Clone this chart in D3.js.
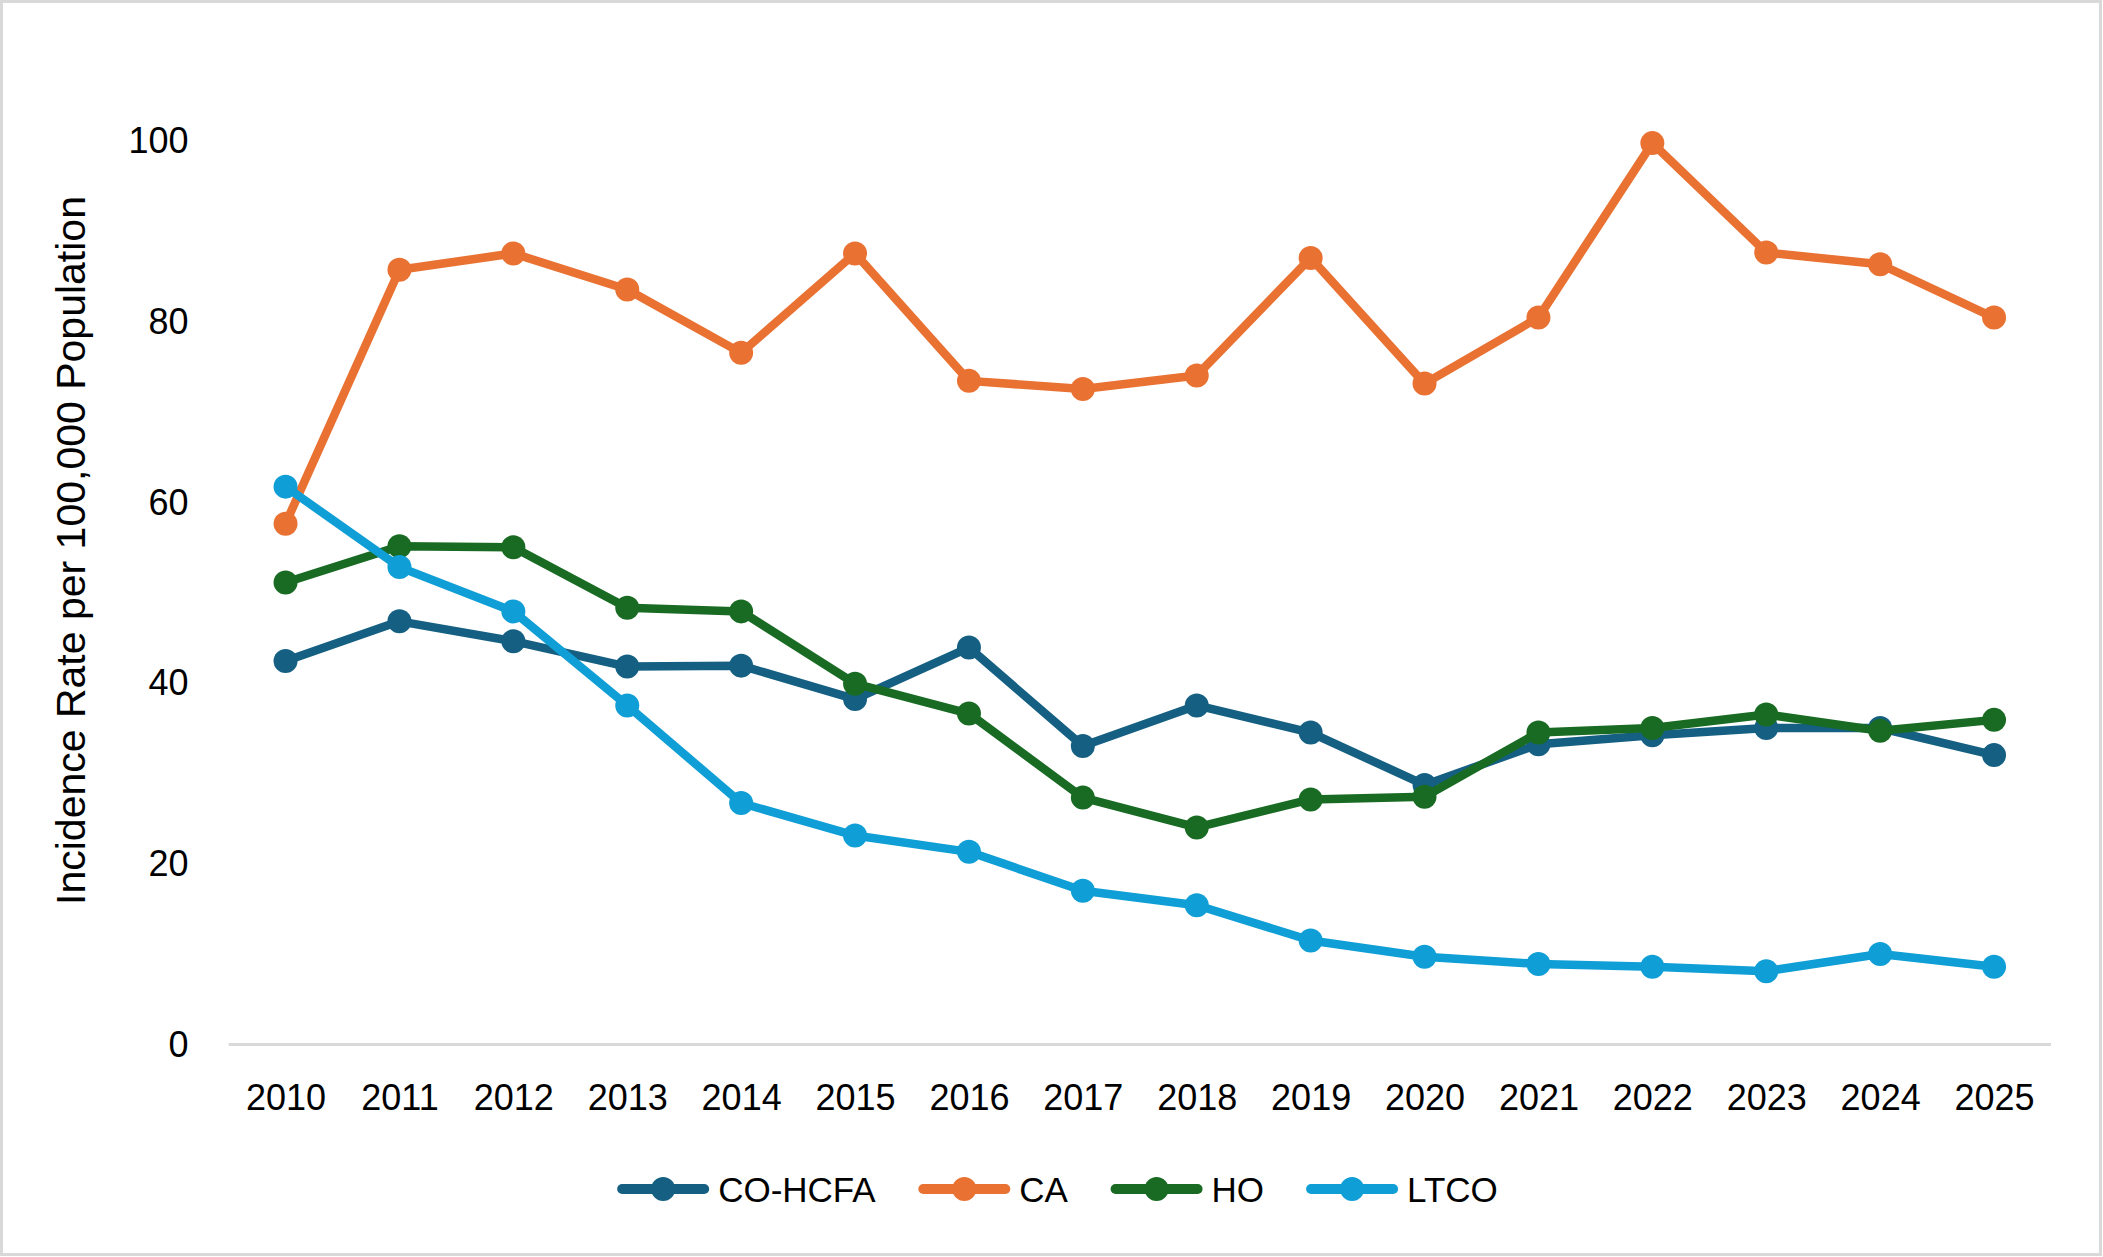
<!DOCTYPE html>
<html lang="en">
<head>
<meta charset="utf-8">
<title>Incidence Rate per 100,000 Population</title>
<script src="https://cdnjs.cloudflare.com/ajax/libs/d3/7.8.5/d3.min.js"></script>
<style>
  html, body { margin: 0; padding: 0; background: #fff; }
  svg { display: block; font-family: "Liberation Sans", Arial, sans-serif; }
  .axis text { font-size: 36px; fill: #000; }
  .axis .domain, .axis line { display: none; }
</style>
</head>
<body>
<script>
// data
var years = ["2010","2011","2012","2013","2014","2015","2016","2017","2018","2019","2020","2021","2022","2023","2024","2025"];
var coHcfa = [42.3, 46.7, 44.5, 41.7, 41.8, 38.1, 43.8, 32.9, 37.4, 34.4, 28.6, 33.1, 34.1, 34.9, 34.9, 31.9];
var ca     = [57.5, 85.6, 87.4, 83.4, 76.4, 87.4, 73.3, 72.4, 73.9, 86.9, 73.0, 80.3, 99.6, 87.5, 86.2, 80.3];
var ho     = [51.0, 55.0, 54.9, 48.2, 47.8, 39.8, 36.5, 27.2, 23.9, 27.0, 27.3, 34.4, 34.9, 36.4, 34.6, 35.8];
var ltco   = [61.6, 52.7, 47.8, 37.4, 26.6, 23.0, 21.2, 16.9, 15.3, 11.4, 9.6, 8.8, 8.5, 8.0, 9.9, 8.5];
var seriesNames = ["CO-HCFA", "CA", "HO", "LTCO"];
var seriesColors = ["#156082", "#E97132", "#196B24", "#0F9ED5"];
var yTicks = [0, 20, 40, 60, 80, 100];

var series = [coHcfa, ca, ho, ltco].map(function(vals, i) {
  return { name: seriesNames[i], color: seriesColors[i], values: vals };
});

var W = 2103, H = 1257;
var margin = { top: 139.5, right: 52, bottom: 213.5, left: 228.6 };
var width = W - margin.left - margin.right;
var height = H - margin.top - margin.bottom;

var svg = d3.select("body").append("svg")
  .attr("width", W)
  .attr("height", H);

// outer border
svg.append("rect")
  .attr("x", 1.5).attr("y", 1.5)
  .attr("width", W - 4).attr("height", H - 4)
  .attr("fill", "#fff")
  .attr("stroke", "#d9d9d9")
  .attr("stroke-width", 3);

var g = svg.append("g")
  .attr("transform", "translate(" + margin.left + "," + margin.top + ")");

var x = d3.scalePoint().domain(years).range([0, width]).padding(0.5);
var y = d3.scaleLinear().domain([0, 100]).range([height, 0]);

// baseline
g.append("line")
  .attr("x1", 0).attr("x2", width)
  .attr("y1", y(0) + 1).attr("y2", y(0) + 1)
  .attr("stroke", "#d9d9d9")
  .attr("stroke-width", 3);

// axes
g.append("g")
  .attr("class", "axis x")
  .attr("transform", "translate(0," + height + ")")
  .call(d3.axisBottom(x).tickSize(0).tickPadding(66))
  .selectAll("text").attr("dy", "0");

g.append("g")
  .attr("class", "axis y")
  .call(d3.axisLeft(y).tickValues(yTicks).tickSize(0).tickPadding(40))
  .selectAll("text").attr("dy", "0.36em");

// y title
svg.append("text")
  .attr("transform", "translate(71," + 550.5 + ") rotate(-90)")
  .attr("text-anchor", "middle")
  .attr("dominant-baseline", "central")
  .style("font-size", "41px")
  .text("Incidence Rate per 100,000 Population");

// lines and markers
var line = d3.line()
  .x(function(d, i) { return x(years[i]); })
  .y(function(d) { return y(d); });

series.forEach(function(s) {
  var sg = g.append("g");
  sg.append("path")
    .datum(s.values)
    .attr("d", line)
    .attr("fill", "none")
    .attr("stroke", s.color)
    .attr("stroke-width", 8.5)
    .attr("stroke-linejoin", "round");
  sg.selectAll("circle")
    .data(s.values)
    .enter().append("circle")
    .attr("cx", function(d, i) { return x(years[i]); })
    .attr("cy", function(d) { return y(d); })
    .attr("r", 12)
    .attr("fill", s.color);
});

// legend
var legend = svg.append("g").attr("transform", "translate(0,1189)");
var lineLen = 92, textGap = 9, itemGap = 42;
var items = legend.selectAll("g.item")
  .data(series)
  .enter().append("g").attr("class", "item");

items.append("line")
  .attr("x1", 5).attr("x2", lineLen - 5)
  .attr("stroke", function(d) { return d.color; })
  .attr("stroke-width", 10)
  .attr("stroke-linecap", "round");
items.append("circle")
  .attr("cx", lineLen / 2)
  .attr("r", 12)
  .attr("fill", function(d) { return d.color; });
items.append("text")
  .attr("x", lineLen + textGap)
  .attr("dy", "0.36em")
  .style("font-size", "35px")
  .text(function(d) { return d.name; });

var offsets = [], total = 0;
items.each(function() {
  var b = this.getBBox();
  var w = b.x + b.width;
  offsets.push(total);
  total += w + itemGap;
});
total -= itemGap;
var startX = W / 2 + 6 - total / 2;
items.attr("transform", function(d, i) { return "translate(" + (startX + offsets[i]) + ",0)"; });
</script>
</body>
</html>
